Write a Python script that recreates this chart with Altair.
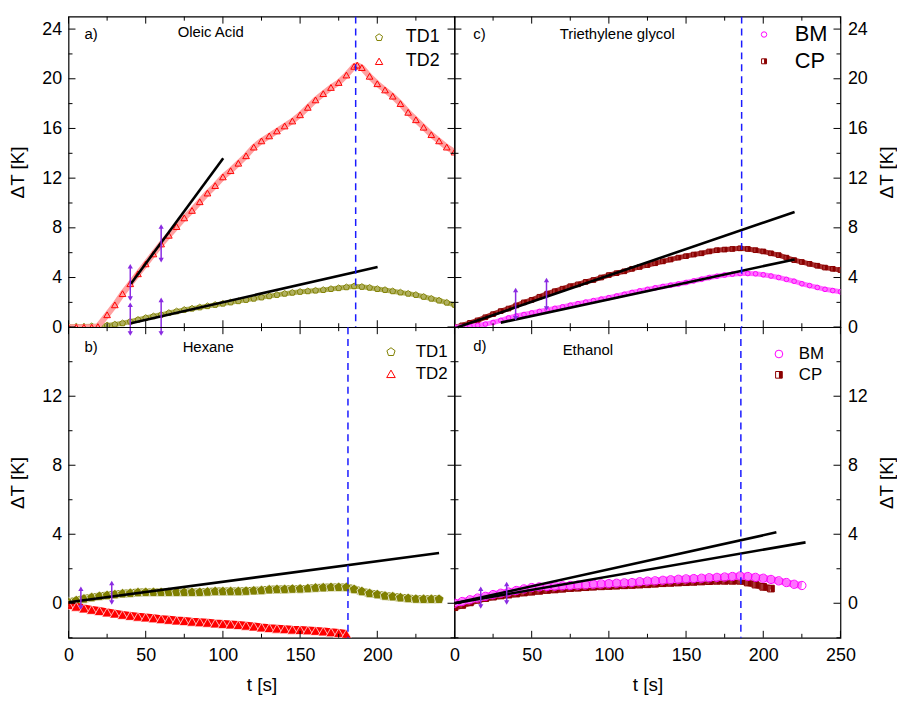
import altair as alt
import pandas as pd

FONT = "Liberation Sans"
W, H = 389, 313
PURPLE = "#8a2be2"
OLIVE, OLIVE_B = "#808000", "#b0b060"
RED, RED_B = "#ff0000", "#ffa0a0"
MAG, MAG_B = "#ff00ff", "#ff70ff"
DRED, DRED_B = "#8b0000", "#a83030"
PENT = "M0,-1L0.951,-0.309L0.588,0.809L-0.588,0.809L-0.951,-0.309Z"
HALF = "M0,-1L1,-1L1,1L0,1Z"

T5 = [0, 5, 10, 15, 20, 25, 30, 35, 40, 45, 50, 55, 60, 65, 70, 75, 80, 85, 90, 95,
      100, 105, 110, 115, 120, 125, 130, 135, 140, 145, 150, 155, 160, 165, 170, 175,
      180, 185, 190, 195, 200, 205, 210, 215, 220, 225, 230, 235, 240, 245, 250]

# ---- a) Oleic Acid
a_td1 = [0.05, 0.05, 0.05, 0.08, 0.1, 0.15, 0.22, 0.32, 0.45, 0.6, 0.75, 0.88, 1.0, 1.15,
         1.28, 1.4, 1.5, 1.6, 1.7, 1.8, 1.9, 2.0, 2.1, 2.2, 2.3, 2.4, 2.5, 2.6, 2.7, 2.78,
         2.85, 2.9, 2.95, 3.0, 3.08, 3.15, 3.22, 3.3, 3.25, 3.18, 3.08, 3.0, 2.9, 2.8, 2.7,
         2.6, 2.45, 2.3, 2.15, 1.98, 1.8]
a_td2_t = [0, 5, 10, 15, 19, 25, 30, 35, 40, 45, 50, 55, 60, 65, 70, 75, 80, 85, 90, 95,
           100, 105, 110, 115, 120, 125, 130, 135, 140, 145, 150, 155, 160, 165, 170, 175,
           180, 185, 187, 190, 195, 200, 205, 210, 215, 220, 225, 230, 235, 240, 245, 250]
a_td2 = [0, 0, 0, 0, 0.05, 1.0, 1.8, 2.7, 3.5, 4.3, 5.1, 5.9, 6.7, 7.4, 8.1, 8.8, 9.4, 10.1,
         10.8, 11.4, 12.1, 12.6, 13.2, 13.8, 14.5, 15.0, 15.4, 15.8, 16.2, 16.6, 17.1, 17.7,
         18.3, 18.8, 19.3, 19.7, 20.3, 21.0, 21.1, 20.9, 20.2, 19.6, 19.1, 18.6, 18.0, 17.3,
         16.7, 16.1, 15.5, 15.0, 14.5, 14.1]
a_fit_id = ["s", "s", "f", "f"]
a_fit_t = [40.4, 100.2, 40.4, 200.2]
a_fit_v = [3.5, 13.6, 0.32, 4.85]
a_arr_t = [40, 40, 60, 60]
a_arr_lo = [2.3, -0.5, 5.4, -0.5]
a_arr_hi = [4.9, 1.8, 8.1, 2.2]
a_peak = [186]

# ---- b) Hexane
b_td1 = [0.05, 0.15, 0.25, 0.33, 0.4, 0.45, 0.5, 0.55, 0.58, 0.62, 0.63, 0.63, 0.63, 0.63,
         0.63, 0.63, 0.63, 0.63, 0.65, 0.68, 0.68, 0.68, 0.68, 0.7, 0.72, 0.74, 0.78, 0.8,
         0.8, 0.82, 0.83, 0.85, 0.88, 0.9, 0.92, 0.92, 0.92, 0.8, 0.68, 0.57, 0.5, 0.42,
         0.38, 0.32, 0.28, 0.24, 0.23, 0.23, 0.23]
b_td2 = [-0.1, -0.2, -0.3, -0.38, -0.45, -0.53, -0.6, -0.67, -0.73, -0.78, -0.82, -0.87,
         -0.92, -0.96, -1.0, -1.03, -1.07, -1.1, -1.13, -1.17, -1.2, -1.23, -1.26, -1.3,
         -1.35, -1.4, -1.44, -1.47, -1.5, -1.53, -1.55, -1.57, -1.6, -1.63, -1.68, -1.72, -1.78]
b_fit_id = ["f", "f"]
b_fit_t = [0, 240]
b_fit_v = [0.06, 2.91]
b_arr_t = [8, 28]
b_arr_lo = [-0.25, 0.04]
b_arr_hi = [0.84, 1.18]
b_peak = [181]

# ---- c) Triethylene glycol
c_cp = [0, 0.15, 0.35, 0.55, 0.8, 1.05, 1.3, 1.5, 1.75, 2.0, 2.2, 2.45, 2.7, 2.9, 3.1, 3.3,
        3.45, 3.65, 3.8, 4.0, 4.2, 4.35, 4.5, 4.7, 4.85, 5.0, 5.15, 5.3, 5.45, 5.6, 5.72,
        5.85, 5.95, 6.1, 6.2, 6.25, 6.3, 6.35, 6.3, 6.2, 6.1, 5.95, 5.8, 5.6, 5.4, 5.25, 5.1,
        4.95, 4.8, 4.7, 4.6]
c_bm = [0, 0.03, 0.08, 0.15, 0.25, 0.38, 0.55, 0.75, 0.9, 1.02, 1.15, 1.27, 1.39, 1.52,
        1.64, 1.77, 1.9, 2.02, 2.14, 2.26, 2.38, 2.51, 2.65, 2.8, 2.93, 3.05, 3.17, 3.28,
        3.38, 3.48, 3.6, 3.73, 3.86, 4.0, 4.1, 4.2, 4.27, 4.32, 4.32, 4.3, 4.22, 4.12, 4.0,
        3.85, 3.7, 3.5, 3.35, 3.2, 3.05, 2.95, 2.85]
c_fit_id = ["u", "u", "l", "l"]
c_fit_t = [2, 220.3, 30, 220.3]
c_fit_v = [0, 9.28, 0.37, 5.46]
c_arr_t = [39.6, 59.6]
c_arr_lo = [0.72, 1.5]
c_arr_hi = [3.0, 3.8]
c_peak = [186]

# ---- d) Ethanol
d_bm = [0, 0.1, 0.2, 0.3, 0.4, 0.5, 0.58, 0.65, 0.74, 0.83, 0.91, 0.95, 0.97, 0.99, 1.01,
        1.03, 1.05, 1.07, 1.1, 1.12, 1.14, 1.16, 1.18, 1.2, 1.25, 1.28, 1.3, 1.33, 1.36,
        1.39, 1.41, 1.43, 1.45, 1.48, 1.5, 1.52, 1.55, 1.58, 1.55, 1.5, 1.45, 1.38, 1.3,
        1.2, 1.1, 1.03]
d_cp = [-0.23, -0.1, 0.05, 0.2, 0.3, 0.38, 0.45, 0.5, 0.56, 0.62, 0.67, 0.72, 0.77, 0.8,
        0.84, 0.88, 0.9, 0.93, 0.96, 0.98, 1.0, 1.02, 1.04, 1.06, 1.08, 1.1, 1.13, 1.16,
        1.18, 1.2, 1.22, 1.24, 1.26, 1.28, 1.3, 1.3, 1.3, 1.3, 1.2, 1.08, 0.95, 0.85]
d_fit_id = ["u", "u", "l", "l"]
d_fit_t = [0, 208.5, 0, 227.4]
d_fit_v = [0, 4.11, 0, 3.53]
d_arr_t = [17, 33.8]
d_arr_lo = [-0.19, 0.04]
d_arr_hi = [0.84, 1.12]
d_peak = [185.5]

X_MAJ = [0, 50, 100, 150, 200, 250]
X_MIN = [25, 75, 125, 175, 225]
Y_TOP_MAJ = [0, 4, 8, 12, 16, 20, 24]
Y_TOP_MIN = [2, 6, 10, 14, 18, 22]
Y_BOT_MAJ = [0, 4, 8, 12, 16]
Y_BOT_MIN = [-2, 2, 6, 10, 14]
Y_BOT_LAB = [0, 4, 8, 12]


def panel(series, fit, arrows, peak, ydom, ymaj, ymin, ylab, side, bottom, xlab, notes, legend):
    xs = alt.Scale(domain=[0, 250], nice=False, zero=False)
    ys = alt.Scale(domain=ydom, nice=False, zero=False)
    if bottom:
        xa = alt.Axis(values=xlab, ticks=False, domain=False, grid=False, title="t [s]",
                      labelFontSize=18, titleFontSize=19, labelPadding=9, titlePadding=11,
                      labelFlush=False, labelOverlap=False)
    else:
        xa = alt.Axis(labels=False, ticks=False, domain=False, grid=False, title=None)
    if side == "left":
        ya = alt.Axis(orient="left", values=ylab, ticks=False, domain=False, grid=False,
                      title="ΔT [K]", labelFontSize=18, titleFontSize=19, labelPadding=7,
                      titlePadding=14, labelOverlap=False, titleAngle=270)
    else:
        ya = alt.Axis(orient="right", values=ylab, ticks=False, domain=False, grid=False,
                      title="ΔT [K]", labelFontSize=18, titleFontSize=19, labelPadding=7,
                      titlePadding=10, labelOverlap=False, titleAngle=270,
                      titleBaseline="top")

    def X(f):
        return alt.X(f, type="quantitative", scale=xs, axis=xa)

    def Y(f):
        return alt.Y(f, type="quantitative", scale=ys, axis=ya)

    layers = []
    for s in series:
        df = pd.DataFrame({"t": s["t"], "v": s["v"]})
        layers.append(alt.Chart(df).mark_line(color=s["band"], strokeWidth=s["bw"], clip=True,
                                              strokeJoin="round").encode(x=X("t"), y=Y("v")))
        pt = dict(shape=s["shape"], size=s["size"], clip=True, opacity=1)
        if s.get("filled"):
            m = alt.Chart(df).mark_point(filled=True, fill=s["color"], stroke="white",
                                         strokeWidth=0.7, **pt)
        else:
            m = alt.Chart(df).mark_point(filled=False, color=s["color"], strokeWidth=1, **pt)
        layers.append(m.encode(x=X("t"), y=Y("v")))
        if s.get("half"):
            layers.append(alt.Chart(df).mark_point(shape=HALF, filled=True, color=s["color"],
                                                   size=s["size"], clip=True, opacity=1)
                          .encode(x=X("t"), y=Y("v")))
    fdf = pd.DataFrame({"id": fit[0], "t": fit[1], "v": fit[2]})
    layers.append(alt.Chart(fdf).mark_line(color="black", strokeWidth=2.6)
                  .encode(x=X("t"), y=Y("v"), detail="id:N"))
    pdf = pd.DataFrame({"t": peak})
    layers.append(alt.Chart(pdf).mark_rule(color="#1a1aff", strokeWidth=1.5, strokeDash=[7, 5])
                  .encode(x=X("t")))
    adf = pd.DataFrame({"t": arrows[0], "lo": arrows[1], "hi": arrows[2]})
    layers.append(alt.Chart(adf).mark_rule(color=PURPLE, strokeWidth=1.5)
                  .encode(x=X("t"), y=Y("lo"), y2="hi:Q"))
    layers.append(alt.Chart(adf).mark_point(shape="triangle-up", filled=True, color=PURPLE,
                                            size=28, opacity=1).encode(x=X("t"), y=Y("hi")))
    layers.append(alt.Chart(adf).mark_point(shape="triangle-down", filled=True, color=PURPLE,
                                            size=28, opacity=1).encode(x=X("t"), y=Y("lo")))
    # inward ticks on all four edges
    for vals, L in [(X_MAJ, 7), (X_MIN, 4)]:
        df = pd.DataFrame({"t": vals})
        layers.append(alt.Chart(df).mark_rule(color="black", strokeWidth=1)
                      .encode(x=X("t"), y=alt.value(H), y2=alt.value(H - L)))
        layers.append(alt.Chart(df).mark_rule(color="black", strokeWidth=1)
                      .encode(x=X("t"), y=alt.value(0), y2=alt.value(L)))
    for vals, L in [(ymaj, 7), (ymin, 4)]:
        df = pd.DataFrame({"v": vals})
        layers.append(alt.Chart(df).mark_rule(color="black", strokeWidth=1)
                      .encode(y=Y("v"), x=alt.value(0), x2=alt.value(L)))
        layers.append(alt.Chart(df).mark_rule(color="black", strokeWidth=1)
                      .encode(y=Y("v"), x=alt.value(W), x2=alt.value(W - L)))
    for txt, px, py, fs in notes:
        df = pd.DataFrame({"label": [txt]})
        layers.append(alt.Chart(df).mark_text(align="left", baseline="middle", font=FONT,
                                              fontSize=fs, color="black")
                      .encode(text="label:N", x=alt.value(px), y=alt.value(py)))
    for lg in legend:
        df = pd.DataFrame({"label": [lg["label"]]})
        if lg.get("filled"):
            sym = alt.Chart(df).mark_point(shape=lg["shape"], filled=True, fill=lg["color"],
                                           stroke="white", strokeWidth=0.7, size=lg["size"], opacity=1)
        else:
            sym = alt.Chart(df).mark_point(shape=lg["shape"], filled=False, color=lg["color"],
                                           strokeWidth=1, size=lg["size"], opacity=1)
        layers.append(sym.encode(x=alt.value(lg["sx"]), y=alt.value(lg["y"])))
        if lg.get("half"):
            layers.append(alt.Chart(df).mark_point(shape=HALF, filled=True, color=lg["color"],
                                                   size=lg["size"], opacity=1)
                          .encode(x=alt.value(lg["sx"]), y=alt.value(lg["y"])))
        layers.append(alt.Chart(df).mark_text(align="left", baseline="middle", font=FONT,
                                              fontSize=lg["fs"], color="black")
                      .encode(text="label:N", x=alt.value(lg["tx"]), y=alt.value(lg["y"])))
    return alt.layer(*layers).properties(width=W, height=H)


pa = panel(
    [dict(t=T5, v=a_td1, shape=PENT, size=40, color=OLIVE, band=OLIVE_B, bw=5),
     dict(t=a_td2_t, v=a_td2, shape="triangle-up", size=45, color=RED, band=RED_B, bw=6)],
    (a_fit_id, a_fit_t, a_fit_v), (a_arr_t, a_arr_lo, a_arr_hi), a_peak,
    [0, 25], Y_TOP_MAJ, Y_TOP_MIN, Y_TOP_MAJ, "left", False, None,
    [("a)", 16, 18, 15), ("Oleic Acid", 110, 16, 15)],
    [dict(label="TD1", shape=PENT, size=55, color=OLIVE, sx=313, tx=340, y=21, fs=18),
     dict(label="TD2", shape="triangle-up", size=55, color=RED, sx=313, tx=340, y=45, fs=18)])

pc = panel(
    [dict(t=T5, v=c_cp, shape="square", size=22, color=DRED, band=DRED_B, bw=5, half=True),
     dict(t=T5, v=c_bm, shape="circle", size=22, color=MAG, band=MAG_B, bw=5)],
    (c_fit_id, c_fit_t, c_fit_v), (c_arr_t, c_arr_lo, c_arr_hi), c_peak,
    [0, 25], Y_TOP_MAJ, Y_TOP_MIN, Y_TOP_MAJ, "right", False, None,
    [("c)", 19, 18, 15), ("Triethylene glycol", 106, 18, 15)],
    [dict(label="BM", shape="circle", size=30, color=MAG, sx=312, tx=343, y=18, fs=22),
     dict(label="CP", shape="square", size=25, color=DRED, sx=312, tx=343, y=45, fs=22, half=True)])

pb = panel(
    [dict(t=T5[:49], v=b_td1, shape=PENT, size=110, color=OLIVE, band=OLIVE, bw=8, filled=True),
     dict(t=T5[:37], v=b_td2, shape="triangle-up", size=110, color=RED, band=RED, bw=8, filled=True)],
    (b_fit_id, b_fit_t, b_fit_v), (b_arr_t, b_arr_lo, b_arr_hi), b_peak,
    [-2, 16], Y_BOT_MAJ, Y_BOT_MIN, Y_BOT_LAB, "left", True, [0, 50, 100, 150, 200],
    [("b)", 16, 20, 15), ("Hexane", 115, 20, 15)],
    [dict(label="TD1", shape=PENT, size=75, color=OLIVE, sx=325, tx=350, y=25, fs=17),
     dict(label="TD2", shape="triangle-up", size=75, color=RED, sx=325, tx=350, y=47, fs=17)])

pd_ = panel(
    [dict(t=T5[:42], v=d_cp, shape="square", size=45, color=DRED, band=DRED_B, bw=7, half=True),
     dict(t=T5[:46], v=d_bm, shape="circle", size=70, color=MAG, band=MAG_B, bw=7)],
    (d_fit_id, d_fit_t, d_fit_v), (d_arr_t, d_arr_lo, d_arr_hi), d_peak,
    [-2, 16], Y_BOT_MAJ, Y_BOT_MIN, Y_BOT_LAB, "right", True, X_MAJ,
    [("d)", 19, 19, 15), ("Ethanol", 109, 23, 15)],
    [dict(label="BM", shape="circle", size=60, color=MAG, sx=327, tx=347, y=27, fs=17),
     dict(label="CP", shape="square", size=45, color=DRED, sx=327, tx=347, y=48, fs=17, half=True)])

chart = alt.concat(pa, pc, pb, pd_, columns=2, spacing=0, bounds="flush").properties(
    padding={"left": 0, "top": 4, "right": 0, "bottom": 2}
).configure_view(stroke="black", strokeWidth=1.2).configure_axis(
    labelFont=FONT, titleFont=FONT, labelColor="black", titleColor="black",
    titleFontWeight="normal")

chart.save("out.html", embed_options={"renderer": "svg", "actions": False})
